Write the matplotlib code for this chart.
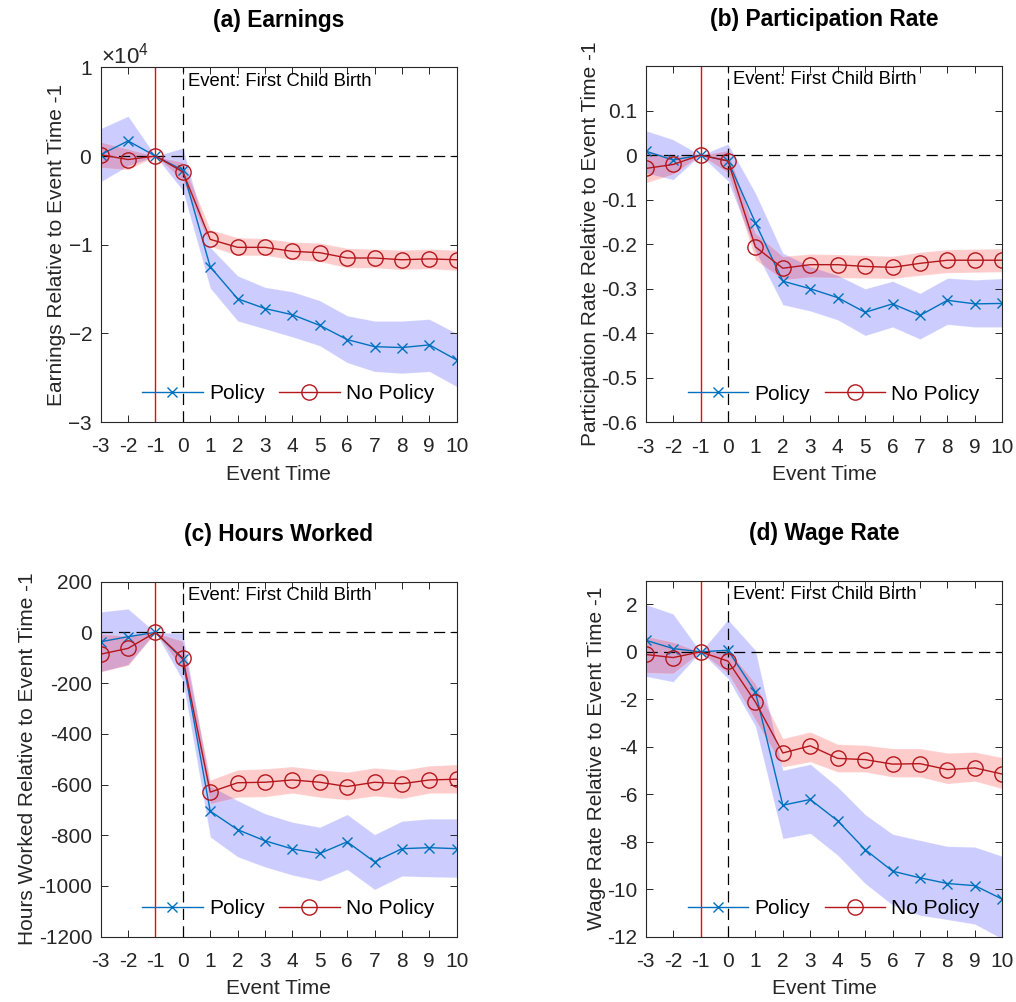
import matplotlib.pyplot as plt
import numpy as np

plt.rcParams["font.family"] = ["Liberation Sans", "DejaVu Sans"]
plt.rcParams["mathtext.fontset"] = "custom"
plt.rcParams["mathtext.rm"] = "Liberation Sans"
plt.rcParams["axes.unicode_minus"] = False

event_time = np.arange(-3, 11)

# (a) earnings, raw units (axis shows x10^4)
earn_pol = [150, 1700, 0, -1600, -12500, -16100, -17200, -17900, -19100, -20700, -21500, -21600, -21300, -23000]
earn_pol_lo = [-2900, -1100, 0, -3900, -14900, -18600, -19500, -20400, -21400, -23300, -24300, -24500, -24300, -26000]
earn_pol_hi = [3100, 4500, 0, 900, -10300, -13500, -14800, -15300, -16300, -18000, -18600, -18600, -18400, -20000]
earn_np = [150, -400, 0, -1800, -9400, -10300, -10300, -10750, -10900, -11500, -11500, -11700, -11600, -11700]
earn_np_lo = [-1300, -1550, 0, -2800, -10200, -11200, -11200, -11700, -11900, -12600, -12600, -12800, -12700, -12900]
earn_np_hi = [1600, 800, 0, -700, -8300, -9200, -9300, -9700, -9800, -10400, -10500, -10600, -10500, -10600]

# (b) participation rate
part_pol = [0.009, -0.011, 0, -0.013, -0.152, -0.283, -0.30, -0.32, -0.353, -0.334, -0.36, -0.326, -0.334, -0.333]
part_pol_lo = [-0.04, -0.055, 0, -0.058, -0.215, -0.336, -0.35, -0.37, -0.405, -0.386, -0.413, -0.38, -0.386, -0.386]
part_pol_hi = [0.055, 0.035, 0, 0.025, -0.085, -0.22, -0.25, -0.27, -0.30, -0.283, -0.31, -0.276, -0.28, -0.277]
part_np = [-0.03, -0.021, 0, -0.013, -0.206, -0.254, -0.246, -0.246, -0.25, -0.252, -0.243, -0.236, -0.236, -0.236]
part_np_lo = [-0.062, -0.043, 0, -0.04, -0.235, -0.28, -0.274, -0.275, -0.276, -0.277, -0.27, -0.264, -0.263, -0.262]
part_np_hi = [0.009, -0.002, 0, 0.011, -0.175, -0.227, -0.222, -0.223, -0.225, -0.227, -0.218, -0.212, -0.211, -0.21]

# (c) hours worked
hrs_pol = [-37, -17, 0, -106, -705, -778, -822, -854, -872, -826, -905, -853, -849, -853]
hrs_pol_lo = [-155, -127, 0, -191, -807, -885, -925, -957, -980, -935, -1014, -961, -964, -966]
hrs_pol_hi = [81, 93, 0, -4, -605, -663, -715, -748, -768, -718, -797, -744, -735, -735]
hrs_np = [-86, -63, 0, -102, -630, -593, -591, -582, -591, -608, -591, -597, -582, -579]
hrs_np_lo = [-155, -130, 0, -149, -676, -650, -648, -634, -650, -660, -645, -655, -634, -634]
hrs_np_hi = [-5, -14, 0, -34, -582, -542, -538, -529, -542, -551, -534, -543, -526, -521]

# (d) wage rate
wage_pol = [0.49, 0.14, 0, 0.07, -1.69, -6.46, -6.22, -7.12, -8.33, -9.24, -9.52, -9.76, -9.85, -10.42]
wage_pol_lo = [-1.03, -1.26, 0, -1.12, -3.13, -7.87, -7.65, -8.57, -9.76, -10.67, -11.1, -11.28, -11.47, -12.1]
wage_pol_hi = [2.0, 1.6, 0, 1.36, 0.07, -4.99, -4.73, -5.69, -6.85, -7.68, -7.94, -8.19, -8.22, -8.61]
wage_np = [-0.11, -0.24, 0, -0.39, -2.11, -4.26, -3.96, -4.49, -4.54, -4.73, -4.71, -4.96, -4.89, -5.15]
wage_np_lo = [-0.88, -0.91, 0, -0.91, -2.88, -4.85, -4.63, -5.06, -5.06, -5.27, -5.27, -5.55, -5.45, -5.76]
wage_np_hi = [0.67, 0.42, 0, 0.1, -1.33, -3.65, -3.37, -3.89, -3.93, -4.07, -4.07, -4.26, -4.22, -4.45]

BLUE = (0.0, 0.447, 0.741)
RED = (0.70, 0.09, 0.11)
GRAY = "#262626"

panels = [
    ("(a) Earnings", "Earnings Relative to Event Time -1",
     earn_pol, earn_pol_lo, earn_pol_hi, earn_np, earn_np_lo, earn_np_hi,
     (-30000, 10000), np.arange(-30000, 10001, 10000)),
    ("(b) Participation Rate", "Participation Rate Relative to Event Time -1",
     part_pol, part_pol_lo, part_pol_hi, part_np, part_np_lo, part_np_hi,
     (-0.6, 0.2), np.round(np.arange(-0.6, 0.11, 0.1), 1)),
    ("(c) Hours Worked", "Hours Worked Relative to Event Time -1",
     hrs_pol, hrs_pol_lo, hrs_pol_hi, hrs_np, hrs_np_lo, hrs_np_hi,
     (-1200, 200), np.arange(-1200, 201, 200)),
    ("(d) Wage Rate", "Wage Rate Relative to Event Time -1",
     wage_pol, wage_pol_lo, wage_pol_hi, wage_np, wage_np_lo, wage_np_hi,
     (-12, 3), np.arange(-12, 3, 2)),
]

positions = [
    [0.0991, 0.5788, 0.3504, 0.3540],
    [0.6355, 0.5785, 0.3510, 0.3556],
    [0.0991, 0.0652, 0.3504, 0.3543],
    [0.6355, 0.0652, 0.3510, 0.3553],
]

fig = plt.figure(figsize=(10.16, 10.02), dpi=100)

for pos, (title, ylabel, pol, pol_lo, pol_hi, npol, np_lo, np_hi, ylim, yticks) in zip(positions, panels):
    ax = fig.add_axes(pos)
    ax.fill_between(event_time, pol_lo, pol_hi, facecolor=(0, 0, 1), alpha=0.2,
                    edgecolor="white", linewidth=0.8)
    ax.fill_between(event_time, np_lo, np_hi, facecolor=(1, 0, 0), alpha=0.2,
                    edgecolor="white", linewidth=0.8)
    ax.axvline(-1, color="red", lw=1.0)
    ax.axvline(0, color="black", lw=0.9, ls=(0, (9, 5)))
    ax.axhline(0, color="black", lw=0.9, ls=(0, (9, 5)))
    ax.plot(event_time, pol, color=BLUE, lw=1.0, marker="x", ms=7, mew=1.0, label="Policy")
    ax.plot(event_time, npol, color=RED, lw=1.0, marker="o", ms=11, mfc="none", mew=1.0,
            label="No Policy")

    ax.set_xlim(-3, 10)
    ax.set_ylim(*ylim)
    ax.set_xticks(event_time)
    ax.set_yticks(yticks)
    if title.startswith("(a)"):
        ax.ticklabel_format(axis="y", style="sci", scilimits=(0, 0), useMathText=True)
        ax.yaxis.get_offset_text().set_fontsize(16)
        ax.yaxis.get_offset_text().set_color(GRAY)
    else:
        ax.set_yticklabels([f"{t + 0.0:g}" for t in yticks])

    ax.tick_params(direction="in", top=True, right=True, length=5, width=0.7,
                   labelsize=15, labelcolor=GRAY, color=GRAY)
    ax.tick_params(axis="x", pad=11)
    ax.tick_params(axis="y", pad=6)
    for s in ax.spines.values():
        s.set_linewidth(0.8)
        s.set_color(GRAY)

    ax.text(0.2, 0.985, "Event: First Child Birth", transform=ax.get_xaxis_transform(),
            ha="left", va="top", fontsize=13.3)
    ax.set_title(title, fontsize=16.4, fontweight="bold", pad=29)
    ax.set_xlabel("Event Time", fontsize=15, color=GRAY, labelpad=6)
    ax.set_ylabel(ylabel, fontsize=15, color=GRAY, labelpad=1)
    ax.legend(loc="lower center", bbox_to_anchor=(0.527, 0.0), ncol=2, frameon=False,
              fontsize=15, handlelength=2.9, columnspacing=0.7, handletextpad=0.3)

fig.savefig("out.png", dpi=100)
